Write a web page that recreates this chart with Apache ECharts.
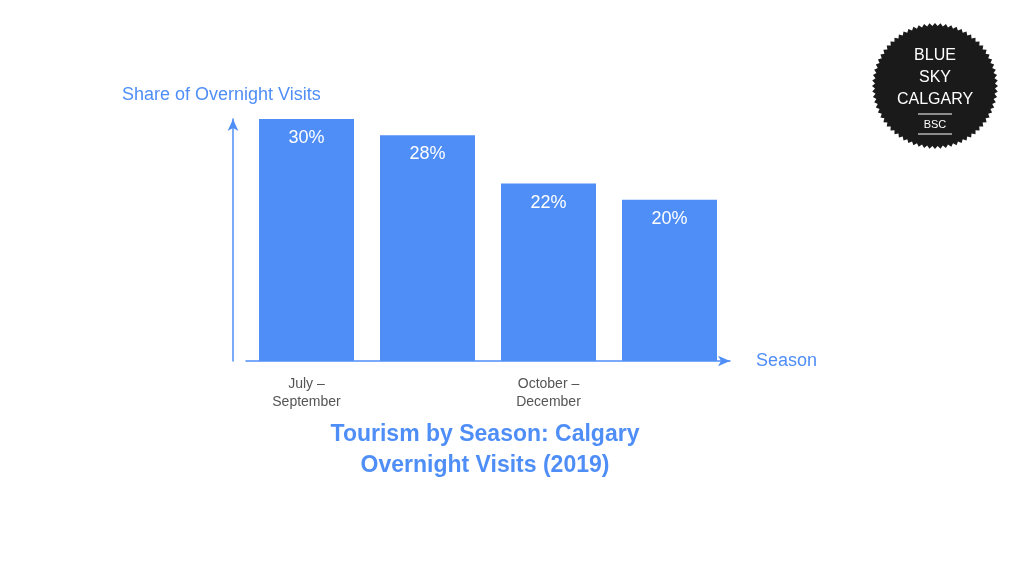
<!DOCTYPE html>
<html>
<head>
<meta charset="utf-8">
<script src="https://cdn.jsdelivr.net/npm/echarts@6/dist/echarts.min.js"></script>
<style>html,body{margin:0;background:#fff}#main{width:1024px;height:576px}</style>
</head>
<body>
<div id="main"></div>
<script>
var seasons = ["July –\nSeptember", "April – June", "October –\nDecember", "January – March"];
var shares = [30, 28, 22, 20];

var blue = "#4f8ef7";
// scalloped badge outline
var badge = [];
for (var i = 0; i < 144; i++) {
  var a = (i / 144) * Math.PI * 2;
  var r = 60 + (i % 2 === 0 ? 3 : 0);
  badge.push([935 + r * Math.cos(a), 86 + r * Math.sin(a)]);
}

var chart = echarts.init(document.getElementById("main"));
chart.setOption({
  animation: false,
  grid: { left: 246, top: 119, width: 484, height: 242 },
  xAxis: {
    type: "category",
    data: seasons,
    axisLine: { lineStyle: { color: blue, width: 1.5 }, symbol: ["none", "arrow"], symbolSize: [8, 12] },
    axisTick: { show: false },
    axisLabel: { color: "#555", fontSize: 14, fontFamily: "Liberation Sans", lineHeight: 18, margin: 14 },
    name: "Season",
    nameGap: 26,
    nameTextStyle: { color: blue, fontSize: 18, fontFamily: "Liberation Sans" }
  },
  yAxis: {
    type: "value",
    min: 0,
    max: 30,
    offset: 13,
    splitLine: { show: false },
    axisLabel: { show: false },
    axisTick: { show: false },
    axisLine: { show: true, lineStyle: { color: blue, width: 1.5 }, symbol: ["none", "arrow"], symbolSize: [8, 12] }
  },
  series: [{
    type: "bar",
    data: shares,
    barWidth: 95,
    itemStyle: { color: blue },
    label: {
      show: true, position: "insideTop", distance: 10, color: "#fff",
      fontSize: 18, fontFamily: "Liberation Sans", formatter: "{c}%"
    }
  }],
  graphic: [
    { type: "text", left: 122, top: 86, style: { text: "Share of Overnight Visits", fill: blue, font: "18px Liberation Sans" } },
    { type: "text", x: 485, y: 450, style: { text: "Tourism by Season: Calgary\nOvernight Visits (2019)", fill: blue, font: "bold 23px Liberation Sans", align: "center", verticalAlign: "middle", lineHeight: 31 } },
    { type: "polygon", shape: { points: badge }, style: { fill: "#1a1a1a" } },
    { type: "text", x: 935, y: 56, style: { text: "BLUE", fill: "#fff", font: "16px Liberation Sans", align: "center", verticalAlign: "middle" } },
    { type: "text", x: 935, y: 78, style: { text: "SKY", fill: "#fff", font: "16px Liberation Sans", align: "center", verticalAlign: "middle" } },
    { type: "text", x: 935, y: 100, style: { text: "CALGARY", fill: "#fff", font: "16px Liberation Sans", align: "center", verticalAlign: "middle" } },
    { type: "line", shape: { x1: 918, y1: 114, x2: 952, y2: 114 }, style: { stroke: "#fff", lineWidth: 1 } },
    { type: "text", x: 935, y: 125, style: { text: "BSC", fill: "#fff", font: "11px Liberation Sans", align: "center", verticalAlign: "middle" } },
    { type: "line", shape: { x1: 918, y1: 134, x2: 952, y2: 134 }, style: { stroke: "#fff", lineWidth: 1 } }
  ]
});
</script>
</body>
</html>
